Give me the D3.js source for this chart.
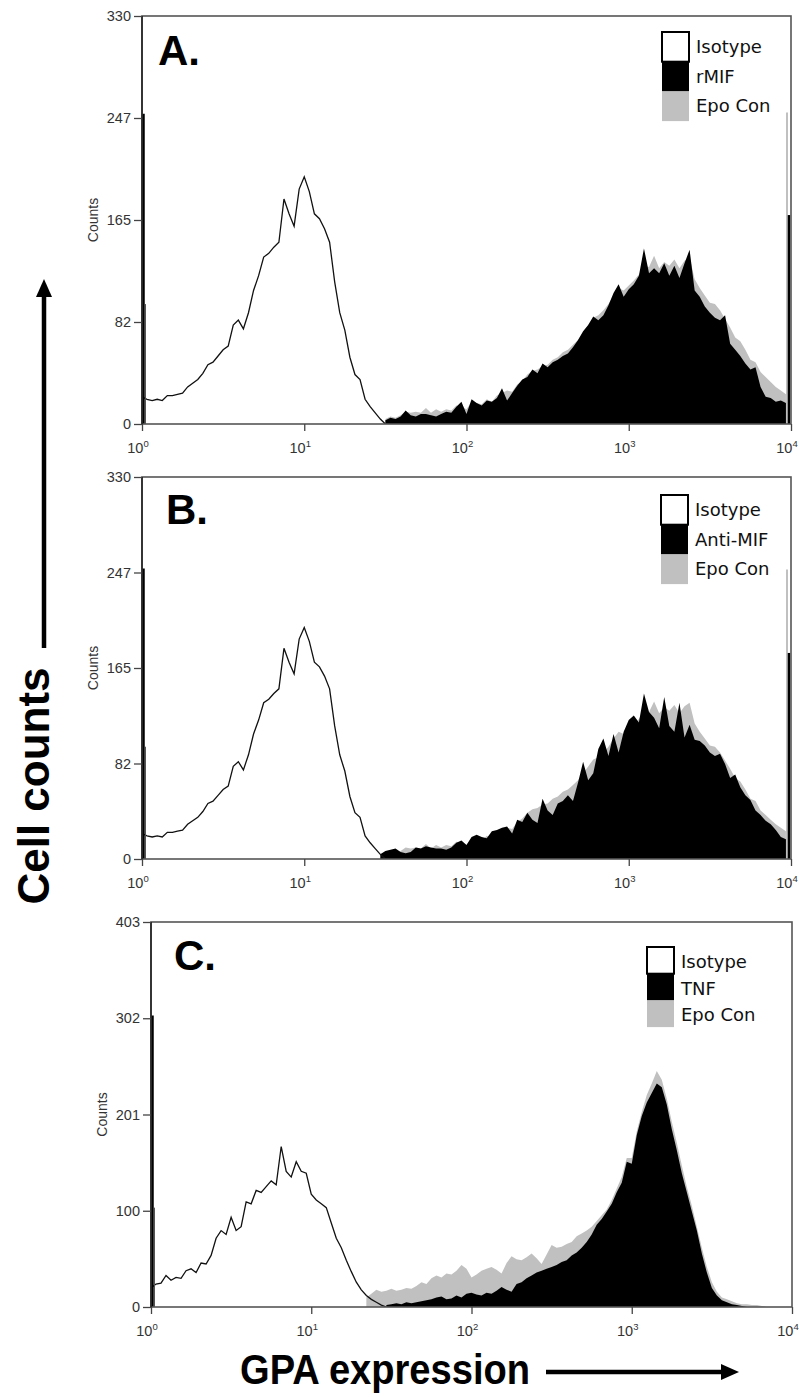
<!DOCTYPE html>
<html>
<head>
<meta charset="utf-8">
<script src="https://cdn.jsdelivr.net/npm/d3@7"></script>
<style>
  body { margin: 0; background: #fff; }
  svg { display: block; }
</style>
</head>
<body>
<script>
// histogram channels: 32 channels per decade, 10^0 .. 10^4
var binsPerDecade = 32;
var xTickExps = [0, 1, 2, 3, 4];

var yTicksAB = ["0", "82", "165", "247", "330"];
var yTicksC = ["0", "100", "201", "302", "403"];

// isotype control (panels A and B), channel 0 ..
var isotypeAB = [22, 20, 19, 20, 19, 23, 23, 24, 25, 30,
    33, 36, 41, 48, 50, 55, 60, 63, 80, 84,
    77, 90, 108, 120, 135, 138, 143, 147, 182, 170,
    160, 190, 200, 188, 170, 166, 158, 147, 115, 90,
    76, 54, 40, 36, 20, 14, 9, 4, 0];

// Epo control (panels A and B), channel 48 ..
var epoConABStart = 48;
var epoConAB = [4, 6, 5, 7, 10, 9, 10, 9, 13, 9,
    12, 10, 12, 11, 15, 14, 12, 18, 17, 16,
    20, 18, 23, 25, 27, 26, 32, 35, 40, 43,
    44, 47, 48, 52, 54, 58, 60, 64, 68, 74,
    80, 86, 88, 92, 97, 104, 110, 108, 112, 116,
    121, 128, 127, 136, 126, 131, 128, 133, 126, 132,
    135, 117, 110, 104, 98, 97, 92, 85, 78, 70,
    67, 60, 52, 50, 42, 38, 34, 30, 27, 24];

// rMIF, channel 48 ..
var rmifStart = 48;
var rmif = [3, 5, 4, 6, 11, 7, 6, 8, 8, 7,
    6, 8, 10, 9, 14, 18, 8, 20, 17, 15,
    19, 18, 21, 29, 19, 25, 31, 36, 38, 44,
    41, 49, 46, 50, 52, 55, 57, 62, 68, 75,
    80, 87, 84, 88, 96, 106, 113, 103, 109, 113,
    120, 142, 122, 126, 122, 130, 120, 128, 118, 130,
    141, 108, 103, 95, 90, 86, 84, 88, 65, 60,
    55, 49, 44, 46, 30, 22, 21, 18, 19, 17];

// anti-MIF, channel 47 ..
var antiMifStart = 47;
var antiMif = [4, 7, 8, 9, 6, 5, 6, 10, 9, 11,
    10, 9, 9, 8, 10, 14, 16, 12, 19, 21,
    19, 18, 24, 25, 27, 28, 22, 34, 32, 40,
    34, 31, 52, 42, 38, 48, 50, 55, 50, 66,
    84, 68, 74, 95, 104, 89, 108, 92, 110, 120,
    124, 118, 143, 127, 122, 113, 140, 115, 110, 135,
    105, 116, 103, 102, 98, 92, 89, 91, 82, 70,
    73, 62, 55, 51, 42, 38, 33, 30, 25, 19, 17];

// panel C isotype, channel 0 ..
var isotypeC = [20, 24, 25, 33, 28, 31, 30, 38, 40, 36,
    46, 45, 54, 72, 80, 76, 94, 80, 84, 110,
    108, 122, 120, 126, 132, 128, 168, 142, 136, 152,
    142, 140, 118, 112, 108, 104, 88, 72, 62, 49,
    37, 26, 18, 12, 8, 5, 2, 0];

// TNF, channel 47 ..
var tnfStart = 47;
var tnf = [2, 3, 4, 3, 5, 4, 5, 6, 7, 8,
    10, 11, 8, 9, 12, 10, 14, 15, 13, 12,
    15, 14, 17, 21, 18, 16, 24, 26, 30, 33,
    36, 38, 40, 42, 44, 47, 49, 54, 57, 62,
    68, 76, 86, 92, 100, 108, 120, 130, 152, 150,
    180, 200, 214, 224, 234, 230, 212, 186, 164, 140,
    120, 100, 80, 56, 36, 20, 12, 7, 5, 3,
    2, 1, 0];

// panel C Epo control, channel 43 ..
var epoConCStart = 43;
var epoConC = [10, 14, 18, 16, 17, 19, 17, 18, 20, 19,
    22, 26, 24, 30, 33, 31, 35, 34, 38, 44,
    40, 31, 34, 38, 40, 42, 39, 35, 46, 53,
    50, 49, 52, 56, 51, 45, 55, 65, 62, 63,
    66, 68, 74, 77, 80, 84, 90, 96, 102, 112,
    124, 136, 156, 156, 184, 204, 222, 234, 247, 238,
    218, 194, 172, 148, 126, 106, 84, 62, 42, 26,
    16, 10, 8, 6, 4, 3, 3, 2, 2, 1, 0];

// first / last channel pile-ups
var leftSpikeA = [251, 97], rightSpikeA = [169, 252];
var leftSpikeB = [251, 97], rightSpikeB = [178, 250];
var leftSpikeC = [305, 104];

var panels = [
    { letter: "A.", treatment: "rMIF", yMax: 330, yLabels: yTicksAB,
      iso: isotypeAB, trt: rmif, trtStart: rmifStart, epo: epoConAB, epoStart: epoConABStart,
      leftSpike: leftSpikeA, rightSpike: rightSpikeA },
    { letter: "B.", treatment: "Anti-MIF", yMax: 330, yLabels: yTicksAB,
      iso: isotypeAB, trt: antiMif, trtStart: antiMifStart, epo: epoConAB, epoStart: epoConABStart,
      leftSpike: leftSpikeB, rightSpike: rightSpikeB },
    { letter: "C.", treatment: "TNF", yMax: 403, yLabels: yTicksC,
      iso: isotypeC, trt: tnf, trtStart: tnfStart, epo: epoConC, epoStart: epoConCStart,
      leftSpike: leftSpikeC, rightSpike: null }
];

var layout = [
    { left: 142, right: 791, top: 16, bottom: 424, letterX: 158, letterY: 65, legX: 662, legY: 32, legRow: 29.7 },
    { left: 142, right: 791, top: 477, bottom: 859, letterX: 166, letterY: 524, legX: 661, legY: 495, legRow: 29.7 },
    { left: 151, right: 792, top: 922, bottom: 1307, letterX: 174, letterY: 970, legX: 647, legY: 947, legRow: 26.7 }
];

var grey = "#c0c0c0";
var tickFont = "'Liberation Sans', Arial, sans-serif";

var svg = d3.select("body")
    .append("svg")
    .attr("width", 799)
    .attr("height", 1397);

function toPoints(arr, start) {
    return arr.map((c, i) => ({ v: Math.pow(10, (start + i) / binsPerDecade), c: c }));
}

panels.forEach((p, k) => {
    var L = layout[k];
    var x = d3.scaleLog().domain([1, 1e4]).range([L.left, L.right]);
    var y = d3.scaleLinear().domain([0, p.yMax]).range([L.bottom, L.top]);

    var g = svg.append("g");

    svg.append("clipPath")
        .attr("id", "clip" + k)
        .append("rect")
        .attr("x", L.left)
        .attr("y", L.top)
        .attr("width", L.right - L.left)
        .attr("height", L.bottom - L.top);

    var plot = g.append("g").attr("clip-path", `url(#clip${k})`);

    var area = d3.area()
        .x(d => x(d.v))
        .y0(y(0))
        .y1(d => y(d.c));

    var line = d3.line()
        .x(d => x(d.v))
        .y(d => y(d.c));

    plot.append("path")
        .datum(toPoints(p.epo, p.epoStart))
        .attr("d", area)
        .attr("fill", grey);

    plot.append("path")
        .datum(toPoints(p.trt, p.trtStart))
        .attr("d", area)
        .attr("fill", "#000");

    plot.append("path")
        .datum(toPoints(p.iso, 0))
        .attr("d", line)
        .attr("fill", "none")
        .attr("stroke", "#111")
        .attr("stroke-width", 1.3);

    // channel pile-ups at the scale ends
    plot.append("line")
        .attr("x1", x(1) + 1.5).attr("x2", x(1) + 1.5)
        .attr("y1", y(p.leftSpike[0])).attr("y2", y(0))
        .attr("stroke", "#000").attr("stroke-width", 2.5);
    plot.append("line")
        .attr("x1", x(1) + 3.5).attr("x2", x(1) + 3.5)
        .attr("y1", y(p.leftSpike[1])).attr("y2", y(0))
        .attr("stroke", "#555").attr("stroke-width", 1);
    if (p.rightSpike) {
        plot.append("line")
            .attr("x1", x(1e4) - 4).attr("x2", x(1e4) - 4)
            .attr("y1", y(p.rightSpike[1])).attr("y2", y(0))
            .attr("stroke", grey).attr("stroke-width", 2);
        plot.append("line")
            .attr("x1", x(1e4) - 2).attr("x2", x(1e4) - 2)
            .attr("y1", y(p.rightSpike[0])).attr("y2", y(0))
            .attr("stroke", "#000").attr("stroke-width", 2.5);
    }

    // frame
    g.append("rect")
        .attr("x", L.left)
        .attr("y", L.top)
        .attr("width", L.right - L.left)
        .attr("height", L.bottom - L.top)
        .attr("fill", "none")
        .attr("stroke", "#555")
        .attr("stroke-width", 1.6);
    g.append("line")
        .attr("x1", L.left).attr("x2", L.left)
        .attr("y1", L.top).attr("y2", L.bottom)
        .attr("stroke", "#111").attr("stroke-width", 1.3);

    // y axis
    var yAxis = d3.axisLeft(y)
        .tickValues(p.yLabels.map((s, i) => p.yMax * i / 4))
        .tickSize(8)
        .tickPadding(3)
        .tickFormat((d, i) => p.yLabels[i]);
    var yg = g.append("g")
        .attr("transform", `translate(${L.left}, 0)`)
        .call(yAxis);
    yg.select(".domain").remove();
    yg.selectAll("line").attr("stroke", "#444").attr("stroke-width", 1.3);
    yg.selectAll("text")
        .attr("fill", "#333")
        .style("font-family", tickFont)
        .style("font-size", "14.5px");

    // x axis
    var xAxis = d3.axisBottom(x)
        .tickValues(xTickExps.map(e => Math.pow(10, e)))
        .tickSize(7)
        .tickFormat("");
    var xg = g.append("g")
        .attr("transform", `translate(0, ${L.bottom})`)
        .call(xAxis);
    xg.select(".domain").remove();
    xg.selectAll("line").attr("stroke", "#444").attr("stroke-width", 1.3);

    xTickExps.forEach(e => {
        var t = g.append("text")
            .attr("x", x(Math.pow(10, e)) - 4)
            .attr("y", L.bottom + 29)
            .attr("text-anchor", "middle")
            .attr("fill", "#333")
            .style("font-family", tickFont)
            .style("font-size", "14.5px");
        t.append("tspan").text("10");
        t.append("tspan")
            .attr("dy", -6)
            .style("font-size", "9.5px")
            .text(e);
    });

    g.append("text")
        .attr("transform", `translate(${L.left - 44}, ${(L.top + L.bottom) / 2}) rotate(-90)`)
        .attr("text-anchor", "middle")
        .attr("fill", "#333")
        .style("font-family", tickFont)
        .style("font-size", "14px")
        .text("Counts");

    // panel letter
    g.append("text")
        .attr("x", L.letterX)
        .attr("y", L.letterY)
        .style("font-family", "'Liberation Sans', Arial, sans-serif")
        .style("font-weight", "bold")
        .style("font-size", "42px")
        .text(p.letter);

    // legend
    var entries = [
        { name: "Isotype", fill: "#fff" },
        { name: p.treatment, fill: "#000" },
        { name: "Epo Con", fill: grey }
    ];
    entries.forEach((en, j) => {
        g.append("rect")
            .attr("x", L.legX)
            .attr("y", L.legY + j * L.legRow)
            .attr("width", 27)
            .attr("height", L.legRow)
            .attr("fill", en.fill)
            .attr("stroke", j === 0 ? "#000" : "none")
            .attr("stroke-width", 2);
        g.append("text")
            .attr("x", L.legX + 34)
            .attr("y", L.legY + j * L.legRow + 21)
            .attr("fill", "#111")
            .style("font-family", "'DejaVu Sans', Verdana, sans-serif")
            .style("font-size", "18px")
            .text(en.name);
    });
});

// overall axis captions with arrows
svg.append("text")
    .attr("transform", "translate(49, 786) rotate(-90)")
    .attr("text-anchor", "middle")
    .style("font-family", "'Liberation Sans', Arial, sans-serif")
    .style("font-weight", "bold")
    .style("font-size", "44px")
    .text("Cell counts");

svg.append("line")
    .attr("x1", 44).attr("x2", 44)
    .attr("y1", 648).attr("y2", 294)
    .attr("stroke", "#000").attr("stroke-width", 4.5);
svg.append("path")
    .attr("d", "M44,279 L52,297 L36,297 Z")
    .attr("fill", "#000");

svg.append("text")
    .attr("x", 240)
    .attr("y", 1384)
    .attr("textLength", 290)
    .attr("lengthAdjust", "spacingAndGlyphs")
    .style("font-family", "'Liberation Sans', Arial, sans-serif")
    .style("font-weight", "bold")
    .style("font-size", "42px")
    .text("GPA expression");

svg.append("line")
    .attr("x1", 546).attr("x2", 724)
    .attr("y1", 1372).attr("y2", 1372)
    .attr("stroke", "#000").attr("stroke-width", 4.5);
svg.append("path")
    .attr("d", "M739,1372 L721,1364 L721,1380 Z")
    .attr("fill", "#000");
</script>
</body>
</html>
